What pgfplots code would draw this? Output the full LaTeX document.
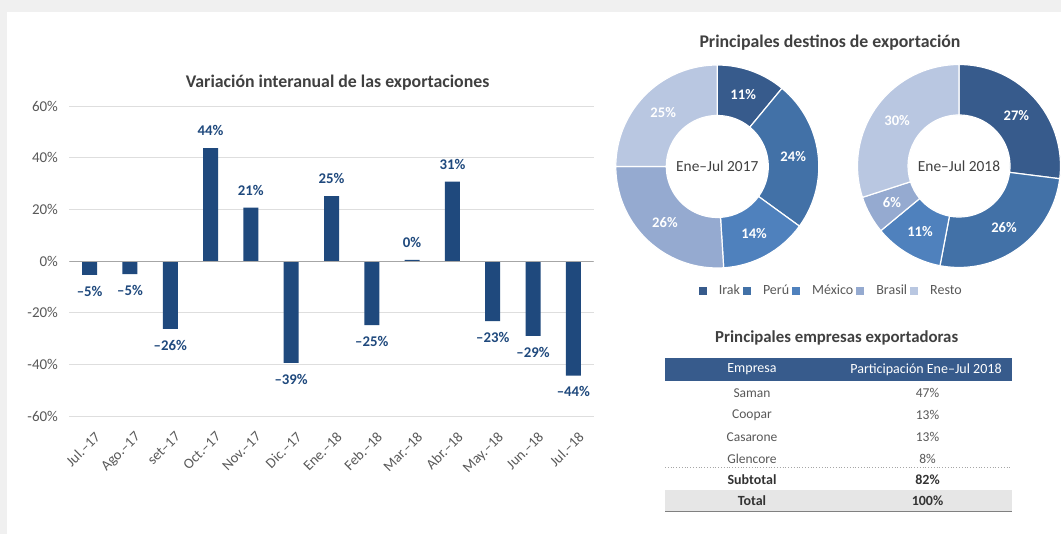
\documentclass[border=0pt]{standalone}
\usepackage{pgfplots}
\usepackage{pgfplotstable}
\pgfplotsset{compat=1.18}
\usepackage{fontspec}
\setmainfont{Carlito}
\definecolor{bgray}{RGB}{240,240,240}
\definecolor{barblue}{RGB}{31,73,125}
\definecolor{lblblue}{RGB}{31,73,125}
\definecolor{gridc}{RGB}{222,222,222}
\definecolor{zeroc}{RGB}{166,166,166}
\definecolor{tickc}{RGB}{89,89,89}
\definecolor{titc}{RGB}{64,64,64}
\definecolor{c0}{RGB}{55,91,140}
\definecolor{c1}{RGB}{66,113,167}
\definecolor{c2}{RGB}{79,129,189}
\definecolor{c3}{RGB}{149,170,208}
\definecolor{c4}{RGB}{185,199,225}
\definecolor{hdr}{RGB}{55,91,140}
\definecolor{totc}{RGB}{230,230,230}
\newcommand\fs[1]{\fontsize{#1}{#1}\selectfont}

\pgfplotstableread{
x y lab
0 -5.3 –5
1 -5.0 –5
2 -26.2 –26
3 43.8 44
4 20.8 21
5 -39.4 –39
6 25.2 25
7 -24.7 –25
8 0.5 0
9 30.8 31
10 -23.2 –23
11 -28.9 –29
12 -44.3 –44
}\bardata

\pgfplotstableread{
dest a b
Irak 11 27
Peru 24 26
Mexico 14 11
Brasil 26 6
Resto 25 30
}\donutdata

\def\Ro{101.5}
\def\Ri{51}
\def\Rm{76.5}
\newcommand\drawdonut[1]{%
  \def\cum{0}%
  \pgfplotsforeachungrouped \i in {0,...,4}{%
    \pgfplotstablegetelem{\i}{#1}\of\donutdata
    \let\val\pgfplotsretval
    \pgfmathsetmacro\aA{90-3.6*\cum}%
    \pgfmathsetmacro\aB{90-3.6*(\cum+\val)}%
    \pgfmathsetmacro\aM{(\aA+\aB)/2}%
    \pgfmathsetmacro\cum{\cum+\val}%
    \pgfmathsetmacro\xO{\Ro*cos(\aA)}%
    \pgfmathsetmacro\yO{\Ro*sin(\aA)}%
    \pgfmathsetmacro\xI{\Ri*cos(\aB)}%
    \pgfmathsetmacro\yI{\Ri*sin(\aB)}%
    \pgfmathsetmacro\xM{\Rm*cos(\aM)}%
    \pgfmathsetmacro\yM{\Rm*sin(\aM)}%
    \edef\temp{\noexpand\fill[c\i, draw=white, line width=1.2pt] (axis cs:\xO,\yO) arc[start angle=\aA, end angle=\aB, radius=\Ro pt] -- (axis cs:\xI,\yI) arc[start angle=\aB, end angle=\aA, radius=\Ri pt] -- cycle;
      \noexpand\node[text=white, font=\noexpand\bfseries\noexpand\fs{14.6}] at (axis cs:\xM,\yM) {\val\noexpand\%};}%
    \temp
  }%
}

\begin{document}
\begin{tikzpicture}
\fill[bgray] (0,0) rectangle (1061pt,534pt);
\fill[white] (7pt,0) rectangle (1061pt,522pt);

% ---------------- bar chart
\node[font=\bfseries\fs{17.8}, text=titc] at (337.6pt,451pt) {Variación interanual de las exportaciones};
\begin{axis}[at={(69.5pt,117.8pt)}, anchor=south west, scale only axis,
  width=524pt, height=309.9pt,
  xmin=-0.5, xmax=12.5, ymin=-60, ymax=60, enlargelimits=false,
  ytick={-60,-40,...,60},
  yticklabels={-60\%,-40\%,-20\%,0\%,20\%,40\%,60\%},
  ymajorgrids, grid style={gridc, line width=0.9pt},
  axis line style={draw=none}, major tick length=0pt,
  xtick={0,...,12},
  xticklabels={Jul.–17, Ago.–17, set–17, Oct.–17, Nov.–17, Dic.–17, Ene.–18, Feb.–18, Mar.–18, Abr.–18, May.–18, Jun.–18, Jul.–18},
  tick label style={font=\fs{15}, text=tickc},
  yticklabel style={xshift=-8pt},
  xticklabel style={rotate=45, anchor=north east, yshift=-10pt, xshift=-4pt, font=\fs{14.5}},
  ybar, bar width=15pt,
  point meta=explicit symbolic,
  visualization depends on={\thisrow{y} \as \rawy},
  nodes near coords={\pgfplotspointmeta\%},
  every node near coord/.append style={font=\bfseries\fs{14.8}, text=lblblue,
     /utils/exec={\ifdim\rawy pt<0pt \def\myanchor{north}\else\def\myanchor{south}\fi},
     anchor=\myanchor, inner ysep=12pt, text height=9pt, text depth=0pt},
]
\addplot[fill=barblue, draw=none] table[x=x, y=y, meta=lab] {\bardata};
\draw[zeroc, line width=1.3pt] (axis cs:-0.5,0) -- (axis cs:12.5,0);
\end{axis}

% ---------------- donuts
\node[font=\bfseries\fs{17.8}, text=titc] at (830pt,491pt) {Principales destinos de exportación};
\begin{axis}[at={(717.3pt,367.5pt)}, anchor=center, x=1pt, y=1pt, hide axis,
  xmin=-110, xmax=110, ymin=-110, ymax=110, clip=false,
  legend columns=5,
  legend style={at={(axis cs:114,-124.2)}, anchor=center, draw=none, fill=none,
     font=\fs{14}, text=tickc, inner sep=0pt,
     /tikz/every even column/.append style={column sep=1pt},
     /tikz/every odd column/.append style={column sep=10pt}},
  legend image code/.code={\fill (0pt,-4pt) rectangle (8pt,4pt);},
]
\drawdonut{a}
\node[font=\fs{15.4}, text=titc] at (axis cs:0,0) {Ene–Jul 2017};
\addlegendimage{fill=c0, draw=none}\addlegendentry{Irak}
\addlegendimage{fill=c1, draw=none}\addlegendentry{Perú}
\addlegendimage{fill=c2, draw=none}\addlegendentry{México}
\addlegendimage{fill=c3, draw=none}\addlegendentry{Brasil}
\addlegendimage{fill=c4, draw=none}\addlegendentry{Resto}
\end{axis}
\begin{axis}[at={(959pt,368pt)}, anchor=center, x=1pt, y=1pt, hide axis,
  xmin=-110, xmax=110, ymin=-110, ymax=110, clip=false]
\drawdonut{b}
\node[font=\fs{15.4}, text=titc] at (axis cs:0,0) {Ene–Jul 2018};
\end{axis}

% ---------------- table
\node[font=\bfseries\fs{16.8}, text=titc] at (836.7pt,196pt) {Principales empresas exportadoras};
\fill[hdr] (665pt,176pt) rectangle (1011.7pt,153pt);
\node[text=white, font=\fs{14}] at (752pt,164.5pt) {Empresa};
\node[text=white, font=\fs{14}] at (926pt,164.5pt) {Participación Ene–Jul 2018};
\begin{scope}[every node/.style={text=tickc, font=\fs{13.5}}]
\node at (752pt,140.7pt) {Saman};    \node at (927.5pt,140.7pt) {47\%};
\node at (752pt,119pt) {Coopar};     \node at (927.5pt,119pt) {13\%};
\node at (752pt,97pt) {Casarone};    \node at (927.5pt,97pt) {13\%};
\node at (752pt,75.3pt) {Glencore};  \node at (927.5pt,75.3pt) {8\%};
\end{scope}
\draw[gray!70, dotted, line width=0.8pt] (665pt,66.3pt) -- (1011.7pt,66.3pt);
\node[text=black!80, font=\bfseries\fs{14}] at (752pt,54pt) {Subtotal};
\node[text=black!80, font=\bfseries\fs{14}] at (927.5pt,54pt) {82\%};
\fill[totc] (665pt,44pt) rectangle (1011.7pt,22.3pt);
\draw[gray, line width=1pt] (665pt,22.3pt) -- (1011.7pt,22.3pt);
\node[text=black!80, font=\bfseries\fs{14}] at (752pt,33pt) {Total};
\node[text=black!80, font=\bfseries\fs{14}] at (927.5pt,33pt) {100\%};

\pgfresetboundingbox
\useasboundingbox (0,0) rectangle (1061pt,534pt);
\end{tikzpicture}
\end{document}
